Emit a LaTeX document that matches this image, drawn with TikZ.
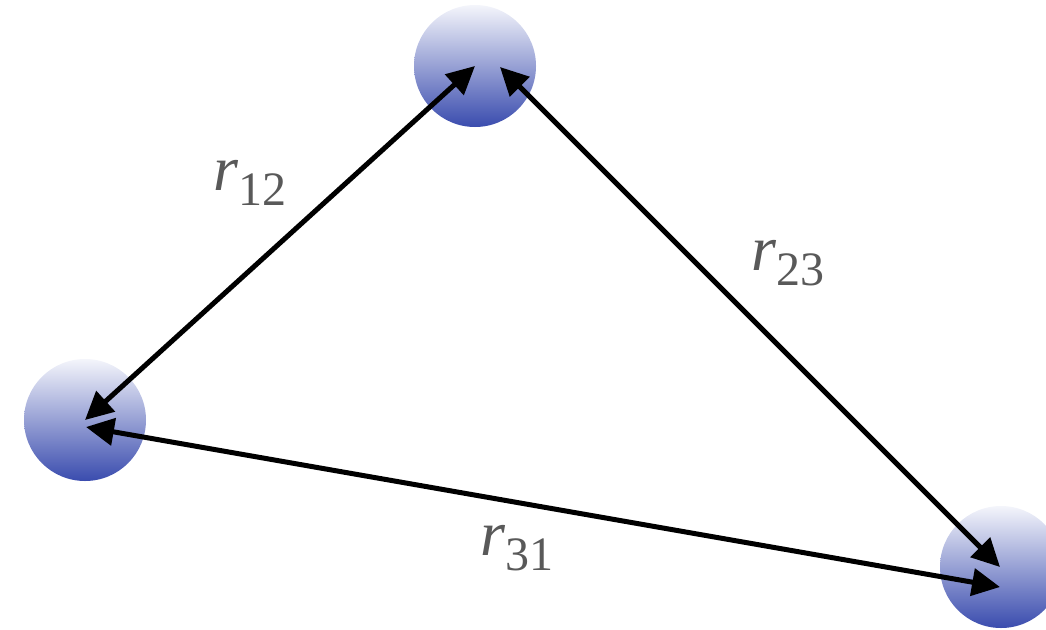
\documentclass[tikz,border=0pt]{standalone}
\usepackage{fontspec}
\setmainfont{Liberation Serif}
\newfontfamily\labfont{Liberation Serif}
\usetikzlibrary{arrows.meta,calc}
\definecolor{balltop}{HTML}{F4F5FB}
\definecolor{ballbot}{HTML}{3A4CAE}
\definecolor{labgray}{HTML}{595959}
\newcommand{\rlab}[1]{{\labfont\fontsize{64}{64}\selectfont\itshape r}\raisebox{-15pt}{\labfont\fontsize{48}{48}\selectfont #1}}
\begin{document}
\begin{tikzpicture}[x=1pt,y=-1pt,
  ball/.style={circle,minimum size=122pt,inner sep=0pt,top color=balltop,bottom color=ballbot,draw=none},
  link/.style={line width=5pt,{Triangle[length=28pt,width=27pt]}-{Triangle[length=28pt,width=27pt]}},
  lab/.style={text=labgray,inner sep=0pt,anchor=base west}]
\useasboundingbox (0,0) rectangle (1046,629);
\node[ball] (T) at (475,66) {};
\node[ball] (L) at (85,420) {};
\node[ball] (R) at (1001,567) {};
\draw[link] (L.center) -- (T.center);
\draw[link] ($(T.center)+(25,1)$) -- ($(R.center)+(-1,0)$);
\draw[link] ($(L.center)+(1,7)$) -- ($(R.center)+(-1,20)$);
\node[lab] (l12) at (213,190) {\rlab{12}};
\node[lab] (l23) at (751,270) {\rlab{23}};
\node[lab] (l31) at (480,555) {\rlab{31}};
\end{tikzpicture}
\end{document}
